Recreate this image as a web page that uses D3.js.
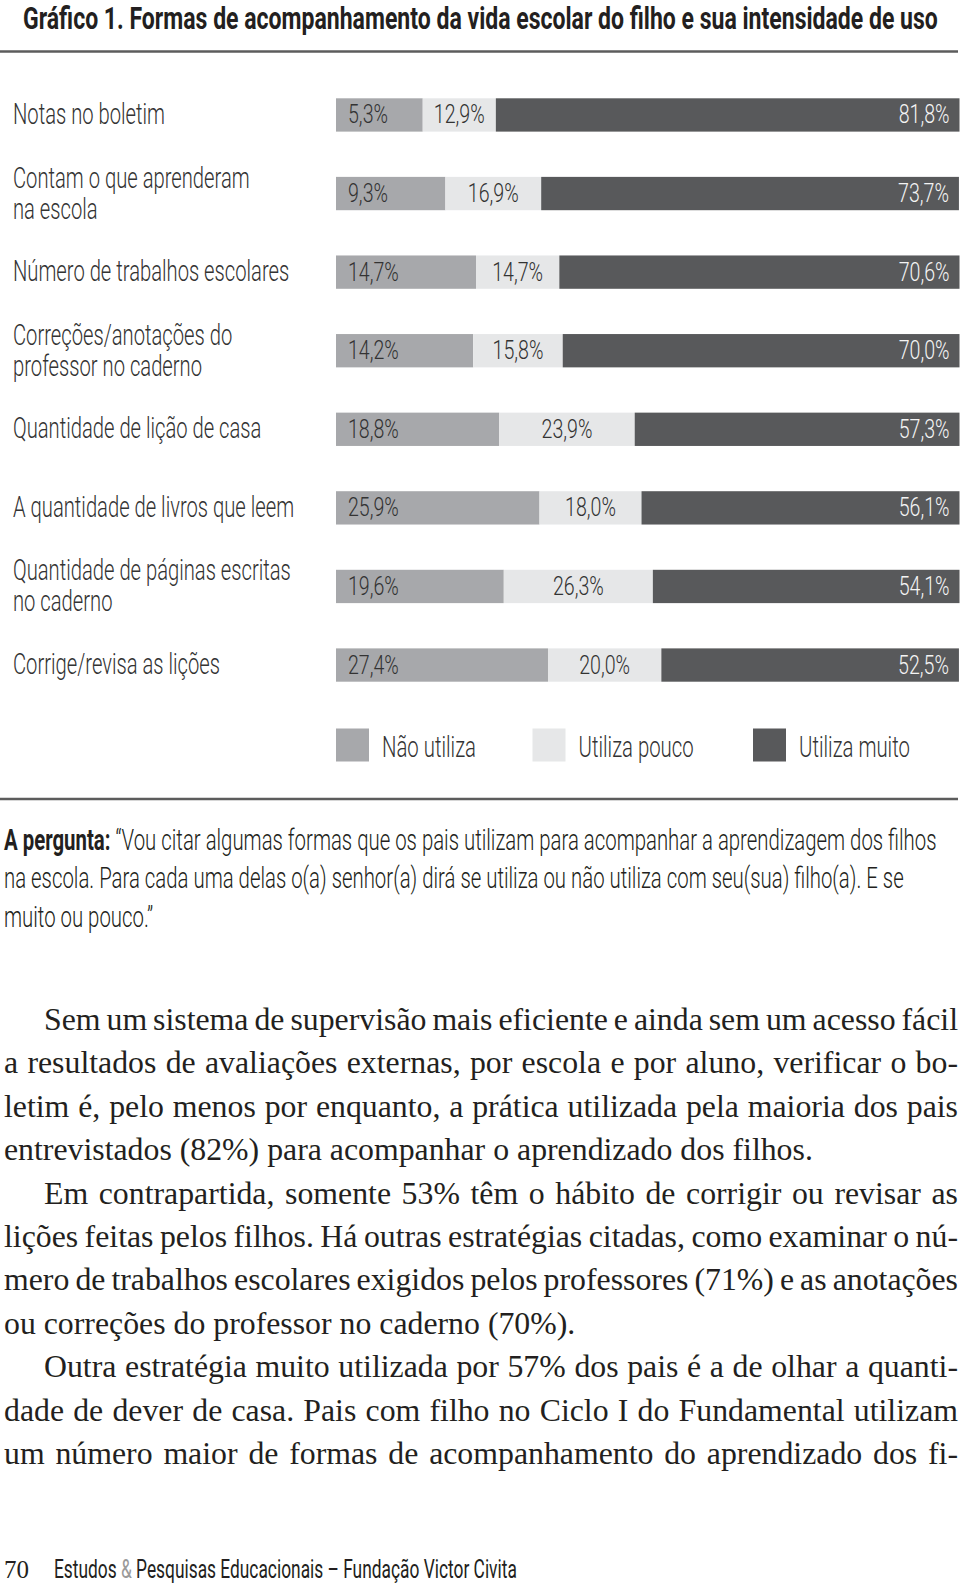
<!DOCTYPE html>
<html><head><meta charset="utf-8">
<script src="https://cdn.jsdelivr.net/npm/d3@7"></script>
<style>body{margin:0;background:#fff} svg{display:block}</style>
</head><body>
<svg id="chart" width="960" height="1585"></svg>
<script>
// ---------------- DATA ----------------
const categories = [
  "Notas no boletim",
  "Contam o que aprenderam|na escola",
  "Número de trabalhos escolares",
  "Correções/anotações do|professor no caderno",
  "Quantidade de lição de casa",
  "A quantidade de livros que leem",
  "Quantidade de páginas escritas|no caderno",
  "Corrige/revisa as lições"
];
const naoUtiliza   = [5.3, 9.3, 14.7, 14.2, 18.8, 25.9, 19.6, 27.4];
const utilizaPouco = [12.9, 16.9, 14.7, 15.8, 23.9, 18.0, 26.3, 20.0];
const utilizaMuito = [81.8, 73.7, 70.6, 70.0, 57.3, 56.1, 54.1, 52.5];
const seriesKeys   = ["nao", "pouco", "muito"];
const seriesNames  = ["Não utiliza", "Utiliza pouco", "Utiliza muito"];
const seriesColors = ["#a7a8ab", "#e6e7e8", "#58595b"];
const labelColors  = ["#333333", "#333333", "#f4f4f4"];

const titleText = "Gráfico 1. Formas de acompanhamento da vida escolar do filho e sua intensidade de uso";
const questionLabel = "A pergunta:";
const questionLines = [
  "“Vou citar algumas formas que os pais utilizam para acompanhar a aprendizagem dos filhos",
  "na escola. Para cada uma delas o(a) senhor(a) dirá se utiliza ou não utiliza com seu(sua) filho(a). E se",
  "muito ou pouco.”"
];
// [text, indent, justify]
const paragraphLines = [
  ["Sem um sistema de supervisão mais eficiente e ainda sem um acesso fácil", true, true],
  ["a resultados de avaliações externas, por escola e por aluno, verificar o bo-", false, true],
  ["letim é, pelo menos por enquanto, a prática utilizada pela maioria dos pais", false, true],
  ["entrevistados (82%) para acompanhar o aprendizado dos filhos.", false, false],
  ["Em contrapartida, somente 53% têm o hábito de corrigir ou revisar as", true, true],
  ["lições feitas pelos filhos. Há outras estratégias citadas, como examinar o nú-", false, true],
  ["mero de trabalhos escolares exigidos pelos professores (71%) e as anotações", false, true],
  ["ou correções do professor no caderno (70%).", false, false],
  ["Outra estratégia muito utilizada por 57% dos pais é a de olhar a quanti-", true, true],
  ["dade de dever de casa. Pais com filho no Ciclo I do Fundamental utilizam", false, true],
  ["um número maior de formas de acompanhamento do aprendizado dos fi-", false, true]
];
const footerPage = "70";
const footerParts = ["Estudos ", "&", " Pesquisas Educacionais – Fundação Victor Civita"];

// ---------------- SETUP ----------------
const svg = d3.select("#chart");
const SANS = "Roboto, 'Open Sans', 'DejaVu Sans', sans-serif";
const SERIF = "'Liberation Serif', 'DejaVu Serif', serif";

// squeeze a text element horizontally (emulating a condensed face)
function placeSqueezed(sel, x, y, sx) {
  sel.attr("x", 0).attr("y", 0).attr("transform", `translate(${x},${y}) scale(${sx},1)`);
}
function measure(str, size, weight, family) {
  const t = svg.append("text").attr("font-size", size).attr("font-weight", weight)
    .attr("font-family", family).text(str);
  const w = t.node().getComputedTextLength();
  t.remove();
  return w;
}

// ---------------- TITLE ----------------
const titleSize = 32;
const titleW = measure(titleText, titleSize, 700, SANS);
const titleSx = (938 - 23) / titleW;
svg.append("text").attr("font-family", SANS).attr("font-weight", 700)
  .attr("font-size", titleSize).attr("fill", "#231f20").text(titleText)
  .call(placeSqueezed, 23, 29, titleSx);
svg.append("line").attr("x1", 0).attr("x2", 958).attr("y1", 51.5).attr("y2", 51.5)
  .attr("stroke", "#5c5c5c").attr("stroke-width", 2.5);

// ---------------- BARS ----------------
const rows = categories.map((c, i) => ({cat: c, nao: naoUtiliza[i], pouco: utilizaPouco[i], muito: utilizaMuito[i]}));
const stack = d3.stack().keys(seriesKeys);
const stacked = stack(rows);

const x = d3.scaleLinear().domain([-10, 100]).range([336, 959.5]);
const y = d3.scaleBand().domain(categories).range([98.3, 681.7]).paddingInner(0.576).paddingOuter(0);
const bw = y.bandwidth();

const layers = svg.append("g").selectAll("g").data(stacked).join("g")
  .attr("fill", (d, i) => seriesColors[i]);
layers.selectAll("rect").data(d => d).join("rect")
  .attr("x", d => d[0] === 0 ? x(-10) : x(d[0]))
  .attr("y", d => y(d.data.cat))
  .attr("width", d => (d[0] === 0 ? x(d[1]) - x(-10) : x(d[1]) - x(d[0])))
  .attr("height", bw);

// value labels
const valSize = 26;
const valSx = 40 / measure("5,3%", valSize, 300, SANS);
const fmt = v => d3.format(".1f")(v).replace(".", ",") + "%";
stacked.forEach((layer, si) => {
  layer.forEach(d => {
    const cy = y(d.data.cat) + bw / 2 + 8.5;
    const t = svg.append("text").attr("font-family", SANS).attr("font-weight", 300)
      .attr("font-size", valSize).attr("fill", labelColors[si]).text(fmt(d.data[layer.key]));
    let px, anchor;
    if (si === 0) { px = x(-10) + 12; anchor = "start"; }
    else if (si === 1) { px = (x(d[0]) + x(d[1])) / 2; anchor = "middle"; }
    else { px = x(d[1]) - 10; anchor = "end"; }
    t.attr("text-anchor", anchor).call(placeSqueezed, px, cy, valSx);
  });
});

// category labels
const catSize = 29;
const catSx = 152 / measure("Notas no boletim", catSize, 300, SANS);
categories.forEach(c => {
  const lines = c.split("|");
  const cy = y(c) + bw / 2;
  const base = lines.length === 1 ? [cy + 9] : [cy - 6, cy + 25];
  lines.forEach((ln, k) => {
    svg.append("text").attr("font-family", SANS).attr("font-weight", 300)
      .attr("font-size", catSize).attr("fill", "#333333").text(ln)
      .call(placeSqueezed, 13, base[k], catSx);
  });
});

// ---------------- LEGEND ----------------
const legX = [336, 532.5, 753];
const legSize = 30;
const legSx = 94 / measure("Não utiliza", legSize, 300, SANS);
seriesNames.forEach((n, i) => {
  svg.append("rect").attr("x", legX[i]).attr("y", 728.5).attr("width", 33).attr("height", 33)
    .attr("fill", seriesColors[i]);
  svg.append("text").attr("font-family", SANS).attr("font-weight", 300)
    .attr("font-size", legSize).attr("fill", "#333333").text(n)
    .call(placeSqueezed, legX[i] + 46, 757, legSx);
});
svg.append("line").attr("x1", 0).attr("x2", 958).attr("y1", 799).attr("y2", 799)
  .attr("stroke", "#5c5c5c").attr("stroke-width", 2.5);

// ---------------- QUESTION NOTE ----------------
const qSize = 29;
const qLabelW = measure(questionLabel + " ", qSize, 700, SANS);
const q1W = measure(questionLines[0], qSize, 300, SANS);
const qSx = (932 - 4) / (qLabelW + q1W);
questionLines.forEach((ln, k) => {
  const t = svg.append("text").attr("font-family", SANS).attr("font-size", qSize).attr("fill", "#231f20");
  if (k === 0) {
    t.append("tspan").attr("font-weight", 700).text(questionLabel + " ");
  }
  t.append("tspan").attr("font-weight", 300).text(ln);
  t.call(placeSqueezed, 4, 850 + k * 38.4, qSx);
});

// ---------------- PARAGRAPH ----------------
const pLeft = 4, pRight = 958, pIndent = 44;
const refW = measure(paragraphLines[3][0], 30, 400, SERIF);
const pSize = 30 * (813 - pLeft) / refW;
const spaceW = measure("a a", pSize, 400, SERIF) - measure("aa", pSize, 400, SERIF);
paragraphLines.forEach(([ln, indent, justify], k) => {
  const by = 1030 + k * 43.4;
  const startX = indent ? pIndent : pLeft;
  const words = ln.split(" ");
  const widths = words.map(w => measure(w, pSize, 400, SERIF));
  const total = d3.sum(widths);
  const gap = justify && words.length > 1 ? (pRight - startX - total) / (words.length - 1) : spaceW;
  const t = svg.append("text").attr("font-family", SERIF).attr("font-size", pSize)
    .attr("fill", "#231f20").attr("y", by);
  let cx = startX;
  words.forEach((w, i) => {
    t.append("tspan").attr("x", cx).attr("y", by).text(w);
    cx += widths[i] + gap;
  });
});

// ---------------- FOOTER ----------------
svg.append("text").attr("font-family", SERIF).attr("font-size", 25).attr("fill", "#231f20")
  .attr("x", 4).attr("y", 1578).text(footerPage);
const fSize = 26;
const fW = measure(footerParts.join(""), fSize, 400, SANS);
const fSx = (517 - 54) / fW;
const ft = svg.append("text").attr("font-family", SANS).attr("font-size", fSize).attr("fill", "#231f20");
footerParts.forEach((p, i) => ft.append("tspan").attr("fill", i === 1 ? "#9a9a9a" : "#231f20").text(p));
ft.call(placeSqueezed, 54, 1578, fSx);
</script>
</body></html>
